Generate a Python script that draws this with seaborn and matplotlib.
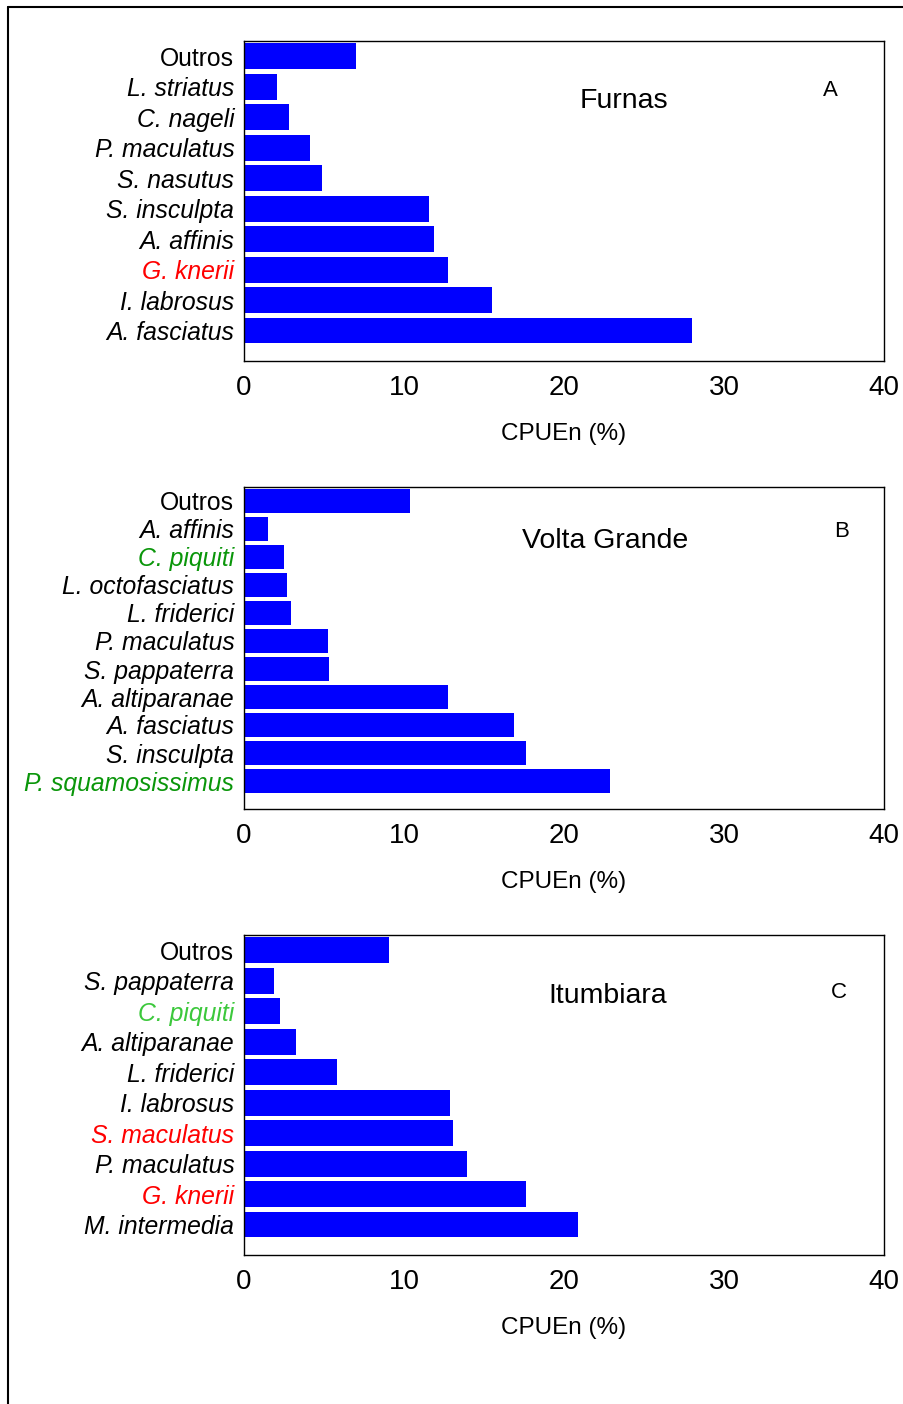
import matplotlib
matplotlib.use('Agg')
import numpy as np
import pandas as pd
import matplotlib.pyplot as plt
import seaborn as sns
from matplotlib.lines import Line2D

# Panel A - Furnas
furnas_species = ['Outros', 'L. striatus', 'C. nageli', 'P. maculatus', 'S. nasutus',
                  'S. insculpta', 'A. affinis', 'G. knerii', 'I. labrosus', 'A. fasciatus']
furnas_cpue = [7.0, 2.05, 2.8, 4.15, 4.9, 11.55, 11.9, 12.75, 15.5, 28.0]
furnas_label_colors = ['black'] * 7 + ['#FF0000'] + ['black'] * 2

# Panel B - Volta Grande
volta_species = ['Outros', 'A. affinis', 'C. piquiti', 'L. octofasciatus', 'L. friderici',
                 'P. maculatus', 'S. pappaterra', 'A. altiparanae', 'A. fasciatus',
                 'S. insculpta', 'P. squamosissimus']
volta_cpue = [10.4, 1.48, 2.48, 2.7, 2.92, 5.27, 5.31, 12.75, 16.9, 17.6, 22.9]
volta_label_colors = ['black', 'black', '#0A960A'] + ['black'] * 7 + ['#0A960A']

# Panel C - Itumbiara
itumb_species = ['Outros', 'S. pappaterra', 'C. piquiti', 'A. altiparanae', 'L. friderici',
                 'I. labrosus', 'S. maculatus', 'P. maculatus', 'G. knerii', 'M. intermedia']
itumb_cpue = [9.05, 1.85, 2.27, 3.27, 5.8, 12.85, 13.05, 13.95, 17.6, 20.85]
itumb_label_colors = ['black', 'black', '#3CC83C', 'black', 'black', 'black',
                      '#FF0000', 'black', '#FF0000', 'black']

x_ticks = [0, 10, 20, 30, 40]

sns.set_style('white')
plt.rcParams['font.family'] = ['Liberation Sans', 'DejaVu Sans']
plt.rcParams['axes.linewidth'] = 1.0
plt.rcParams['text.color'] = 'black'
plt.rcParams['axes.labelcolor'] = 'black'
plt.rcParams['xtick.color'] = 'black'
plt.rcParams['ytick.color'] = 'black'

fig = plt.figure(figsize=(9.04, 14.04), dpi=100)

panels = [
    ([244 / 904, 1 - 361 / 1404, 640 / 904, 320 / 1404], furnas_species, furnas_cpue,
     furnas_label_colors, 'Furnas', 'A', (0.594, 0.812), (0.917, 0.846)),
    ([244 / 904, 1 - 809 / 1404, 640 / 904, 322 / 1404], volta_species, volta_cpue,
     volta_label_colors, 'Volta Grande', 'B', (0.564, 0.833), (0.933, 0.863)),
    ([244 / 904, 1 - 1255 / 1404, 640 / 904, 320 / 1404], itumb_species, itumb_cpue,
     itumb_label_colors, 'Itumbiara', 'C', (0.569, 0.810), (0.930, 0.820)),
]

for pos, species, values, label_colors, title, letter, title_xy, letter_xy in panels:
    ax = fig.add_axes(pos)
    df = pd.DataFrame({'species': species, 'cpue': values})
    sns.barplot(data=df, x='cpue', y='species', orient='h', color='#0000FF',
                saturation=1, width=0.85, edgecolor='none', ax=ax)
    ax.set_xlim(0, 40)
    ax.set_ylim(len(species), -0.5)
    ax.set_xticks(x_ticks)
    ax.set_xticklabels([str(t) for t in x_ticks], fontsize=20)
    ax.set_xlabel('CPUEn (%)', fontsize=17.5, labelpad=16)
    ax.set_ylabel('')
    ax.tick_params(axis='both', direction='in', length=4, width=1, color='black')
    ax.tick_params(axis='x', pad=10)
    ax.tick_params(axis='y', pad=7, labelsize=17.8)
    for lbl, c in zip(ax.get_yticklabels(), label_colors):
        lbl.set_color(c)
        if lbl.get_text() != 'Outros':
            lbl.set_fontstyle('italic')
    for sp in ax.spines.values():
        sp.set_color('black')
        sp.set_linewidth(1.0)
    ax.text(title_xy[0], title_xy[1], title, transform=ax.transAxes,
            ha='center', va='center', fontsize=20.5)
    ax.text(letter_xy[0], letter_xy[1], letter, transform=ax.transAxes,
            ha='center', va='center', fontsize=16)

# outer frame (left and top edges)
fig.add_artist(Line2D([7.5 / 904, 7.5 / 904], [0, 1 - 6.5 / 1404],
                      transform=fig.transFigure, color='black', lw=1.5))
fig.add_artist(Line2D([7.5 / 904, 1], [1 - 6.5 / 1404, 1 - 6.5 / 1404],
                      transform=fig.transFigure, color='black', lw=1.5))

fig.savefig('out.png', dpi=100, facecolor='white')
